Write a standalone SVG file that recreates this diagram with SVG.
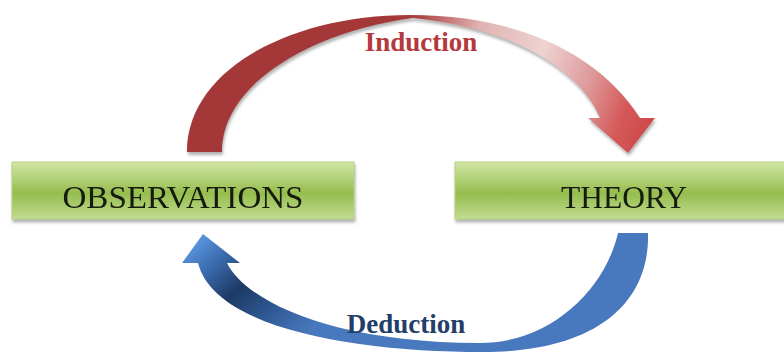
<svg xmlns="http://www.w3.org/2000/svg" width="784" height="352" viewBox="0 0 784 352">
  <style>
    .box { stroke: #b5d27e; stroke-width: 1; }
    .box-label { font-family: "Liberation Serif", "Times New Roman", serif; font-size: 31.5px; fill: #141a0c; text-anchor: middle; }
    .arc-label { font-family: "Liberation Serif", "Times New Roman", serif; font-size: 27px; font-weight: bold; text-anchor: middle; }
  </style>
  <defs>
    <linearGradient id="boxFill" x1="0" y1="0" x2="0" y2="1">
      <stop offset="0" stop-color="#d2e6a6"/>
      <stop offset="0.55" stop-color="#95bd4e"/>
      <stop offset="1" stop-color="#c3dc92"/>
    </linearGradient>
    <linearGradient id="redFill" gradientUnits="userSpaceOnUse" x1="380" y1="60" x2="640" y2="150">
      <stop offset="0" stop-color="#a43838"/>
      <stop offset="0.08" stop-color="#ad4040"/>
      <stop offset="0.3" stop-color="#e0b2b2"/>
      <stop offset="0.55" stop-color="#eed2d2"/>
      <stop offset="0.75" stop-color="#de9898"/>
      <stop offset="0.9" stop-color="#d45858"/>
      <stop offset="1" stop-color="#cf4a4a"/>
    </linearGradient>
    <linearGradient id="blueFill" gradientUnits="userSpaceOnUse" x1="203" y1="234" x2="300" y2="340">
      <stop offset="0" stop-color="#5b95de"/>
      <stop offset="0.2" stop-color="#3a6cb0"/>
      <stop offset="0.45" stop-color="#1d3a64"/>
      <stop offset="0.72" stop-color="#2f5a96"/>
      <stop offset="1" stop-color="#4878bd"/>
    </linearGradient>
    <filter id="shadow" x="-10%" y="-10%" width="130%" height="140%">
      <feGaussianBlur in="SourceAlpha" stdDeviation="1.5"/>
      <feOffset dx="1" dy="3" result="blur"/>
      <feFlood flood-color="#808080" flood-opacity="0.6"/>
      <feComposite in2="blur" operator="in"/>
      <feMerge>
        <feMergeNode/>
        <feMergeNode in="SourceGraphic"/>
      </feMerge>
    </filter>
  </defs>

  <rect width="784" height="352" fill="#ffffff"/>

  <!-- curved arrows with their labels -->
  <g id="connectors">
    <g id="induction">
      <path filter="url(#shadow)" fill="url(#redFill)"
            d="M187,152 C187,70 290,15 410,15 C520,15 600,55 640,118 L655,118 L628,153 L588,118 L600,118 C585,80 530,30 413,18 C320,30 222,80 222,152 Z"/>
      <text class="arc-label" x="421" y="51" fill="#b5383c">Induction</text>
    </g>
    <g id="deduction">
      <path fill="url(#blueFill)"
            d="M648,233 C650,300 600,352 483,352 C360,352 215,330 198,263 L182,263 L203,234 L240,263 L227,263 C245,300 330,343 480,343 C550,343 605,290 618,233 Z"/>
      <text class="arc-label" x="406" y="333" fill="#233e69">Deduction</text>
    </g>
  </g>

  <!-- nodes -->
  <g id="observations" filter="url(#shadow)">
    <rect class="box" x="12" y="162" width="342" height="57" fill="url(#boxFill)"/>
    <text class="box-label" x="183" y="208" textLength="241" lengthAdjust="spacingAndGlyphs">OBSERVATIONS</text>
  </g>
  <g id="theory" filter="url(#shadow)">
    <rect class="box" x="455" y="162" width="340" height="57" fill="url(#boxFill)"/>
    <text class="box-label" x="624" y="208">THEORY</text>
  </g>
</svg>
